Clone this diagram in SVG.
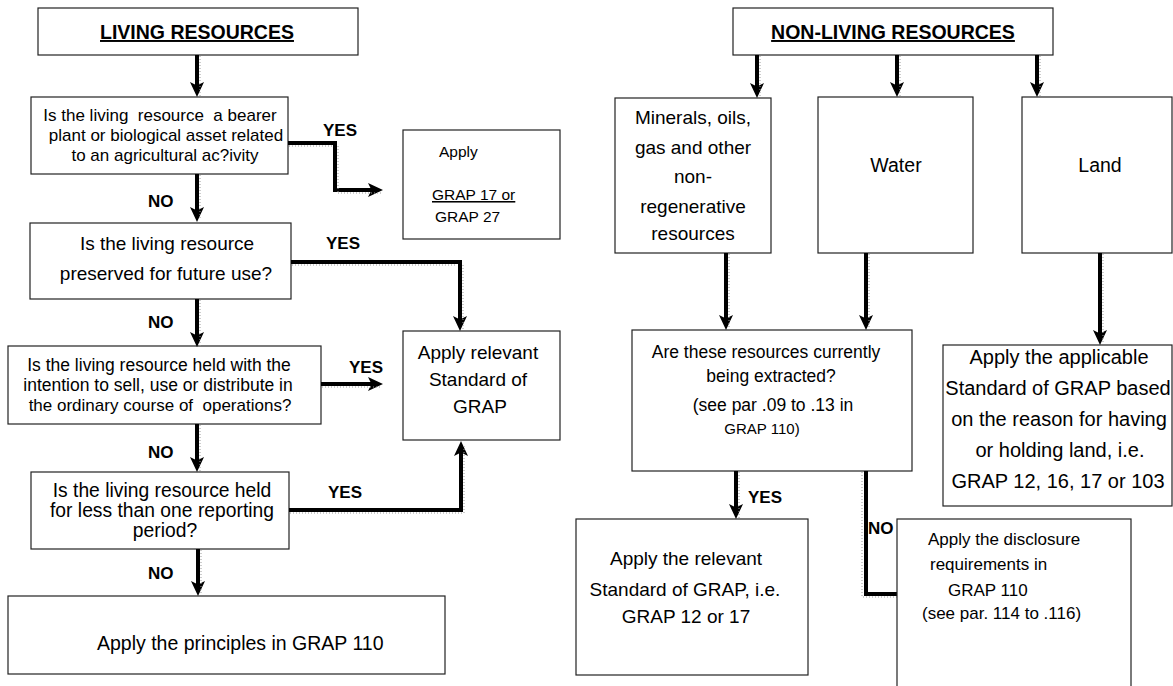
<svg xmlns="http://www.w3.org/2000/svg" width="1173" height="686" viewBox="0 0 1173 686">
<defs>
<style>
.box{fill:#fff;stroke:#222;stroke-width:1.2}
.t{font-family:"Liberation Sans",Arial,sans-serif;fill:#000;white-space:pre}
.c{text-anchor:middle}
.b{font-weight:bold}
.lbl{font-family:"Liberation Sans",Arial,sans-serif;font-weight:bold;font-size:17px;fill:#000}
.con{fill:none;stroke:#000;stroke-width:4;stroke-linejoin:miter}
.sh{fill:none;stroke:#999;stroke-width:1;stroke-dasharray:1 2}
</style>
<marker id="ah" viewBox="0 0 15 15" refX="9" refY="7.5" markerWidth="15" markerHeight="15" markerUnits="userSpaceOnUse" orient="auto">
<path d="M0,0.5 L15,7.5 L0,14.5 L3.5,7.5 z" fill="#000"/>
</marker>
</defs>

<!-- LEFT: LIVING RESOURCES -->
<g id="n-living">
<rect class="box" x="38" y="8" width="320" height="47"/>
<text class="t c b" x="197" y="39" font-size="19.5" text-decoration="underline">LIVING RESOURCES</text>
</g>
<g id="n-q1">
<rect class="box" x="31" y="97" width="257" height="77"/>
<text class="t c" x="160" y="121" font-size="17">Is the living  resource  a bearer</text>
<text class="t c" x="166" y="141" font-size="17">plant or biological asset related</text>
<text class="t c" x="165" y="161" font-size="17">to an agricultural ac?ivity</text>
</g>
<g id="n-grap17">
<rect class="box" x="403" y="130" width="157" height="109"/>
<text class="t" x="439" y="157" font-size="15.5">Apply</text>
<text class="t" x="432" y="200" font-size="15.5" text-decoration="underline">GRAP 17 or</text>
<text class="t" x="435" y="222" font-size="15.5">GRAP 27</text>
</g>
<g id="n-q2">
<rect class="box" x="30" y="223" width="261" height="76"/>
<text class="t c" x="167" y="250" font-size="19">Is the living resource</text>
<text class="t c" x="166" y="280" font-size="19">preserved for future use?</text>
</g>
<g id="n-apply-rel">
<rect class="box" x="403" y="331" width="157" height="109"/>
<text class="t c" x="478" y="359" font-size="19">Apply relevant</text>
<text class="t c" x="478" y="386" font-size="19">Standard of</text>
<text class="t c" x="480" y="413" font-size="19">GRAP</text>
</g>
<g id="n-q3">
<rect class="box" x="8" y="346" width="313" height="78"/>
<text class="t c" x="159" y="371" font-size="17.5">Is the living resource held with the</text>
<text class="t c" x="158" y="391" font-size="17.5">intention to sell, use or distribute in</text>
<text class="t c" x="160" y="411" font-size="17">the ordinary course of  operations?</text>
</g>
<g id="n-q4">
<rect class="box" x="31" y="472" width="258" height="77"/>
<text class="t c" x="162" y="497" font-size="19.3">Is the living resource held</text>
<text class="t c" x="162" y="517" font-size="19.3">for less than one reporting</text>
<text class="t c" x="165" y="537" font-size="19.3">period?</text>
</g>
<g id="n-principles">
<rect class="box" x="8" y="596" width="437" height="78"/>
<text class="t" x="97" y="650" font-size="19.5">Apply the principles in GRAP 110</text>
</g>

<!-- RIGHT: NON-LIVING RESOURCES -->
<g id="n-nonliving">
<rect class="box" x="733" y="8" width="320" height="47"/>
<text class="t c b" x="893" y="39" font-size="19.5" text-decoration="underline">NON-LIVING RESOURCES</text>
</g>
<g id="n-minerals">
<rect class="box" x="615" y="98" width="156" height="155"/>
<text class="t c" x="693" y="124" font-size="19">Minerals, oils,</text>
<text class="t c" x="693" y="154" font-size="19">gas and other</text>
<text class="t c" x="693" y="183" font-size="19">non-</text>
<text class="t c" x="693" y="213" font-size="19">regenerative</text>
<text class="t c" x="693" y="240" font-size="19">resources</text>
</g>
<g id="n-water">
<rect class="box" x="818" y="97" width="155" height="156"/>
<text class="t c" x="896" y="172" font-size="19.5">Water</text>
</g>
<g id="n-land">
<rect class="box" x="1022" y="97" width="150" height="156"/>
<text class="t c" x="1100" y="172" font-size="19.5">Land</text>
</g>
<g id="n-extract">
<rect class="box" x="632" y="330" width="280" height="141"/>
<text class="t c" x="766" y="358" font-size="17.5">Are these resources currently</text>
<text class="t c" x="771" y="382" font-size="17.5">being extracted?</text>
<text class="t c" x="773" y="411" font-size="17.5">(see par .09 to .13 in</text>
<text class="t c" x="762" y="434" font-size="15">GRAP 110)</text>
</g>
<g id="n-landapply">
<rect class="box" x="943" y="345" width="229" height="161"/>
<text class="t c" x="1059" y="364" font-size="20">Apply the applicable</text>
<text class="t c" x="1058" y="395" font-size="20">Standard of GRAP based</text>
<text class="t c" x="1059" y="426" font-size="20">on the reason for having</text>
<text class="t c" x="1060" y="457" font-size="20">or holding land, i.e.</text>
<text class="t c" x="1058" y="488" font-size="20">GRAP 12, 16, 17 or 103</text>
</g>
<g id="n-relevant12">
<rect class="box" x="576" y="519" width="232" height="156"/>
<text class="t c" x="686" y="565" font-size="19">Apply the relevant</text>
<text class="t c" x="685" y="596" font-size="19">Standard of GRAP, i.e.</text>
<text class="t c" x="686" y="623" font-size="19">GRAP 12 or 17</text>
</g>

<!-- Connectors -->
<g id="connectors">
<!-- left -->
<path class="con" d="M197,55 V91" marker-end="url(#ah)"/>
<path class="sh" d="M200,56 V96"/>
<path class="con" d="M288,143 H335 V190 H377" marker-end="url(#ah)"/>
<path class="sh" d="M289,146 H333 M338,146 V193 M338,193 H382"/>
<path class="con" d="M197,174 V216" marker-end="url(#ah)"/>
<path class="sh" d="M200,175 V220"/>
<path class="con" d="M291,262 H460 V325" marker-end="url(#ah)"/>
<path class="sh" d="M292,265 H457 M463,265 V330"/>
<path class="con" d="M197,299 V341" marker-end="url(#ah)"/>
<path class="sh" d="M200,300 V346"/>
<path class="con" d="M321,384 H377" marker-end="url(#ah)"/>
<path class="sh" d="M322,387 H382"/>
<path class="con" d="M197,424 V466" marker-end="url(#ah)"/>
<path class="sh" d="M200,425 V471"/>
<path class="con" d="M289,510 H461 V447" marker-end="url(#ah)"/>
<path class="sh" d="M290,513 H464 M464,513 V445"/>
<path class="con" d="M198,549 V590" marker-end="url(#ah)"/>
<path class="sh" d="M201,550 V595"/>
<!-- right -->
<path class="con" d="M757,55 V92" marker-end="url(#ah)"/>
<path class="sh" d="M760,56 V97"/>
<path class="con" d="M897,55 V91" marker-end="url(#ah)"/>
<path class="sh" d="M900,56 V96"/>
<path class="con" d="M1037,55 V91" marker-end="url(#ah)"/>
<path class="sh" d="M1040,56 V96"/>
<path class="con" d="M726,253 V324" marker-end="url(#ah)"/>
<path class="sh" d="M729,254 V329"/>
<path class="con" d="M866,253 V324" marker-end="url(#ah)"/>
<path class="sh" d="M869,254 V329"/>
<path class="con" d="M1100,253 V339" marker-end="url(#ah)"/>
<path class="sh" d="M1103,254 V344"/>
<path class="con" d="M736,471 V513" marker-end="url(#ah)"/>
<path class="sh" d="M739,472 V518"/>
<path class="con" d="M866,471 V594 H897"/>
<path class="sh" d="M862,472 V597 H897"/>
<!-- labels -->
<text class="lbl" x="323" y="136">YES</text>
<text class="lbl" x="148" y="207">NO</text>
<text class="lbl" x="326" y="249">YES</text>
<text class="lbl" x="148" y="328">NO</text>
<text class="lbl" x="349" y="373">YES</text>
<text class="lbl" x="148" y="458">NO</text>
<text class="lbl" x="328" y="498">YES</text>
<text class="lbl" x="148" y="579">NO</text>
<text class="lbl" x="748" y="503">YES</text>
<text class="lbl" x="868" y="534">NO</text>
</g>

<g id="n-disclosure">
<rect class="box" x="897" y="519" width="234" height="175"/>
<text class="t" x="928" y="545" font-size="17">Apply the disclosure</text>
<text class="t" x="930" y="570" font-size="17">requirements in</text>
<text class="t" x="948" y="596" font-size="17">GRAP 110</text>
<text class="t" x="922" y="619" font-size="17">(see par. 114 to .116)</text>
</g>
</svg>
